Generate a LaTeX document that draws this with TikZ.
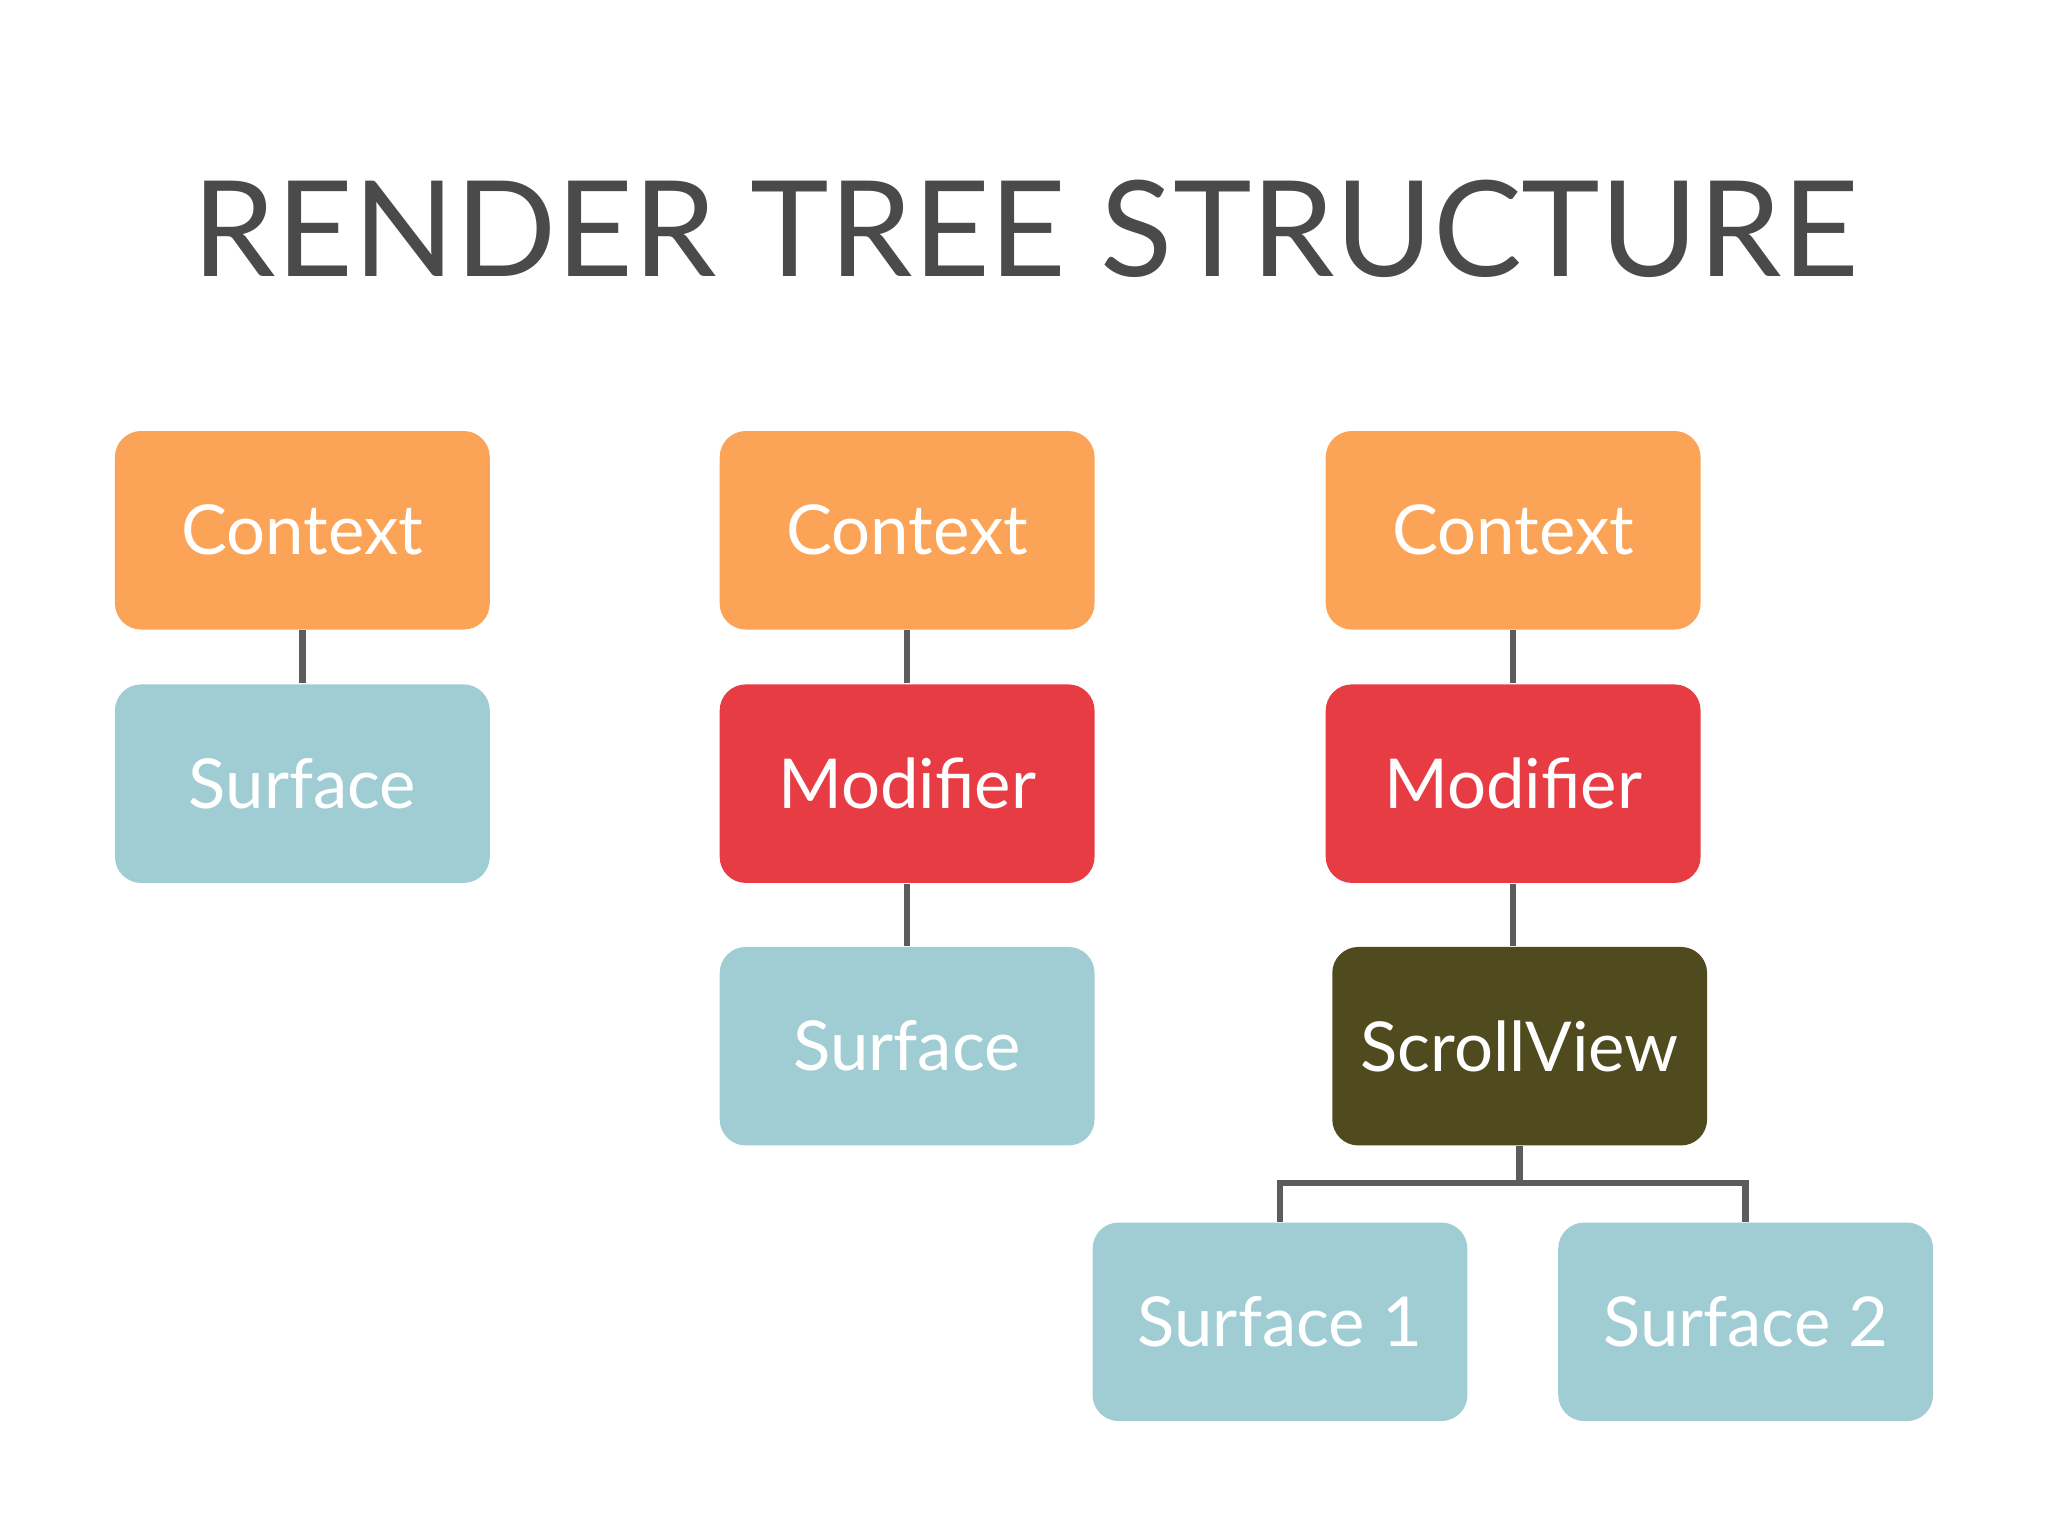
\documentclass[tikz,border=0pt]{standalone}
\usepackage{fontspec}
\setmainfont{Lato}
\usetikzlibrary{calc}
\definecolor{ctxorange}{HTML}{FBA457}
\definecolor{modred}{HTML}{E83C45}
\definecolor{surfblue}{HTML}{A0CDD4}
\definecolor{scrollolive}{HTML}{4F4B1E}
\definecolor{titlegray}{HTML}{4A4A4A}
\begin{document}
\begin{tikzpicture}[x=1cm,y=1cm,
	box/.style={rounded corners=0.2cm,minimum width=2.87cm,minimum height=1.52cm,
		text=white,font=\fontsize{15}{18}\selectfont},
	link/.style={draw=titlegray!90,line width=1.4pt}]
		\useasboundingbox (0,0) rectangle (15.68,-11.76);
		\node[text=titlegray,font=\fontsize{29}{34}\selectfont] (title) at (7.85,-1.75) {RENDER TREE STRUCTURE};
		
		\begin{scope}
		\node[box,fill=ctxorange] (ctx-1) at (2.315,-4.06) {Context};
		\node[box,fill=surfblue]  (srf-1) at (2.315,-6.00) {Surface};
		
		\node[box,fill=ctxorange] (ctx-2) at (6.945,-4.06) {Context};
		\node[box,fill=modred]    (mod-2) at (6.945,-6.00) {Modifier};
		\node[box,fill=surfblue]  (srf-2) at (6.945,-8.01) {Surface};
		
		\node[box,fill=ctxorange]   (ctx-3) at (11.585,-4.06) {Context};
		\node[box,fill=modred]      (mod-3) at (11.585,-6.00) {Modifier};
		\node[box,fill=scrollolive] (scr-3) at (11.635,-8.01) {ScrollView};
		\node[box,fill=surfblue]    (srf-3a) at (9.80,-10.12) {Surface 1};
		\node[box,fill=surfblue]    (srf-3b) at (13.365,-10.12) {Surface 2};
		\end{scope}
		
		\path [link] (ctx-1) -- (srf-1);
		\path [link] (ctx-2) -- (mod-2);
		\path [link] (mod-2) -- (srf-2);
		\path [link] (ctx-3.south) -- (mod-3.north);
		\path [link] (mod-3.south) -- (mod-3.south |- scr-3.north);
		
		\coordinate (fork) at ($(scr-3.south)+(0,-0.28)$);
		\path [link] (scr-3.south) -- (fork);
		\path [link] (srf-3a.north) |- (fork) -| (srf-3b.north);
\end{tikzpicture}
\end{document}
